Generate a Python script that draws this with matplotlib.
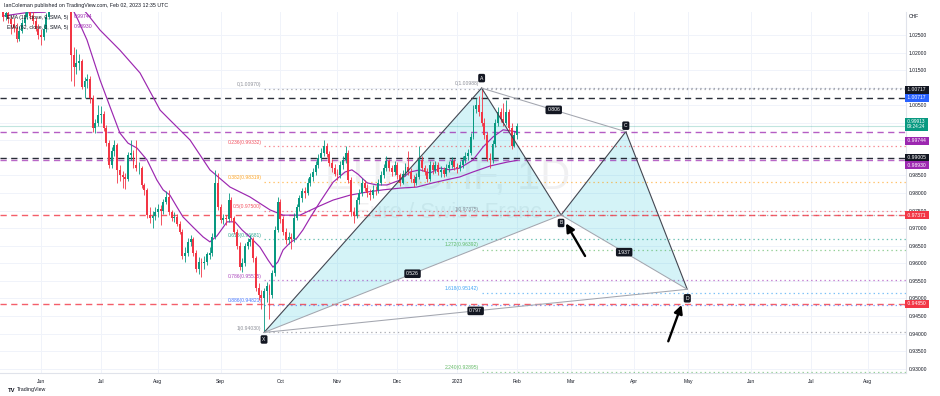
import numpy as np
import matplotlib
matplotlib.use("Agg")
import matplotlib.pyplot as plt
import matplotlib.transforms as mtransforms
from matplotlib.patches import Polygon

plt.rcParams['font.family'] = ['Liberation Sans', 'DejaVu Sans']
plt.rcParams['lines.scale_dashes'] = False

# ---------------- data ----------------
first_bar = -14          # trading-day index of first visible candle (0 = 1 Jun 2022)
first_open = 1.0335
closes = [1.0300, 1.0312, 1.0296, 1.0281, 1.0270, 1.0240, 1.0262, 1.0285, 1.0302, 1.0318,
          1.0305, 1.0290, 1.0268, 1.0250, 1.0244, 1.0266, 1.0300, 1.0332, 1.0360, 1.0382,
          1.0401, 1.0418, 1.0398, 1.0391, 1.0405, 1.0193, 1.0159, 1.0170, 1.0176, 1.0102,
          1.0118, 1.0125, 1.0071, 0.9985, 1.0000, 1.0022, 1.0025, 0.9985, 0.9943, 0.9880,
          0.9920, 0.9937, 0.9866, 0.9850, 0.9845, 0.9840, 0.9908, 0.9915, 0.9880, 0.9870,
          0.9872, 0.9822, 0.9810, 0.9738, 0.9730, 0.9735, 0.9745, 0.9755, 0.9748, 0.9775,
          0.9790, 0.9745, 0.9728, 0.9733, 0.9712, 0.9690, 0.9620, 0.9630, 0.9660, 0.9668,
          0.9630, 0.9585, 0.9605, 0.9600, 0.9605, 0.9625, 0.9630, 0.9675, 0.9829, 0.9760,
          0.9723, 0.9728, 0.9725, 0.9780, 0.9728, 0.9690, 0.9650, 0.9590, 0.9600, 0.9648,
          0.9660, 0.9668, 0.9615, 0.9530, 0.9510, 0.9500, 0.9522, 0.9535, 0.9510, 0.9572,
          0.9695, 0.9775, 0.9725, 0.9690, 0.9665, 0.9675, 0.9668, 0.9730, 0.9760, 0.9785,
          0.9805, 0.9800, 0.9830, 0.9845, 0.9860, 0.9880, 0.9900, 0.9915, 0.9935, 0.9910,
          0.9885, 0.9870, 0.9855, 0.9850, 0.9880, 0.9895, 0.9915, 0.9838, 0.9745, 0.9735,
          0.9780, 0.9800, 0.9830, 0.9815, 0.9800, 0.9795, 0.9810, 0.9808, 0.9830, 0.9850,
          0.9870, 0.9890, 0.9870, 0.9860, 0.9880, 0.9850, 0.9830, 0.9855, 0.9875, 0.9860,
          0.9840, 0.9830, 0.9845, 0.9895, 0.9870, 0.9860, 0.9840, 0.9880, 0.9865, 0.9880,
          0.9860, 0.9865, 0.9855, 0.9870, 0.9880, 0.9890, 0.9875, 0.9870, 0.9880, 0.9895,
          0.9905, 0.9915, 0.9960, 1.0040, 1.0050, 1.0030, 1.0000, 0.9965, 0.9900, 0.9895,
          0.9940, 1.0000, 1.0030, 1.0010, 1.0000, 1.0030, 0.9985, 0.9935, 0.9965, 0.99913]
highs = [1.0345, 1.0330, 1.0320, 1.0305, 1.0298, 1.0285, 1.0275, 1.0296, 1.0315, 1.0335,
         1.0330, 1.0318, 1.0300, 1.0282, 1.0268, 1.0280, 1.0312, 1.0345, 1.0378, 1.0395,
         1.0420, 1.0440, 1.0430, 1.0412, 1.0425, 1.0415, 1.0215, 1.0210, 1.0195, 1.0182,
         1.0130, 1.0140, 1.0132, 1.0080, 1.0012, 1.0050, 1.0048, 1.0035, 0.9995, 0.9950,
         0.9932, 0.9950, 0.9942, 0.9880, 0.9862, 0.9858, 0.9918, 0.9950, 0.9922, 0.9950,
         0.9888, 0.9878, 0.9830, 0.9815, 0.9760, 0.9748, 0.9760, 0.9770, 0.9765, 0.9782,
         0.9805, 0.9810, 0.9752, 0.9745, 0.9740, 0.9720, 0.9698, 0.9645, 0.9672, 0.9680,
         0.9675, 0.9638, 0.9618, 0.9615, 0.9620, 0.9632, 0.9645, 0.9685, 0.9865, 0.9858,
         0.9768, 0.9740, 0.9738, 0.9800, 0.9788, 0.9735, 0.9698, 0.9660, 0.9615, 0.9658,
         0.9672, 0.9680, 0.9675, 0.9622, 0.9545, 0.9525, 0.9530, 0.9548, 0.9540, 0.9580,
         0.9705, 0.9790, 0.9782, 0.9735, 0.9700, 0.9690, 0.9685, 0.9742, 0.9770, 0.9795,
         0.9815, 0.9818, 0.9842, 0.9858, 0.9872, 0.9892, 0.9912, 0.9928, 0.9952, 0.9942,
         0.9920, 0.9898, 0.9882, 0.9868, 0.9890, 0.9905, 0.9935, 0.9922, 0.9845, 0.9760,
         0.9790, 0.9812, 0.9842, 0.9838, 0.9825, 0.9812, 0.9822, 0.9820, 0.9840, 0.9862,
         0.9882, 0.9905, 0.9898, 0.9880, 0.9892, 0.9888, 0.9858, 0.9865, 0.9885, 0.9920,
         0.9870, 0.9850, 0.9858, 0.9935, 0.9905, 0.9880, 0.9870, 0.9890, 0.9888, 0.9892,
         0.9888, 0.9878, 0.9875, 0.9882, 0.9892, 0.9902, 0.9898, 0.9885, 0.9892, 0.9905,
         0.9918, 0.9925, 0.9972, 1.0052, 1.0072, 1.0075, 1.00988, 1.0015, 0.9975, 0.9915,
         0.9952, 1.0012, 1.0045, 1.0042, 1.0055, 1.0065, 1.0040, 1.0000, 0.9975, 1.0000]
lows = [1.0290, 1.0292, 1.0285, 1.0252, 1.0258, 1.0230, 1.0232, 1.0255, 1.0278, 1.0295,
        1.0296, 1.0281, 1.0260, 1.0238, 1.0222, 1.0236, 1.0258, 1.0295, 1.0325, 1.0350,
        1.0370, 1.0390, 1.0380, 1.0370, 1.0380, 1.0120, 1.0105, 1.0140, 1.0150, 1.0095,
        1.0070, 1.0100, 1.0055, 0.9975, 0.9970, 0.9990, 1.0000, 0.9978, 0.9935, 0.9870,
        0.9872, 0.9905, 0.9830, 0.9835, 0.9815, 0.9812, 0.9835, 0.9895, 0.9872, 0.9862,
        0.9855, 0.9815, 0.9795, 0.9730, 0.9715, 0.9700, 0.9722, 0.9732, 0.9710, 0.9740,
        0.9768, 0.9738, 0.9720, 0.9718, 0.9705, 0.9682, 0.9612, 0.9605, 0.9622, 0.9650,
        0.9622, 0.9575, 0.9570, 0.9562, 0.9585, 0.9595, 0.9612, 0.9620, 0.9670, 0.9752,
        0.9715, 0.9712, 0.9710, 0.9718, 0.9720, 0.9682, 0.9640, 0.9580, 0.9575, 0.9592,
        0.9640, 0.9648, 0.9605, 0.9520, 0.9495, 0.9470, 0.9403, 0.9490, 0.9440, 0.9500,
        0.9565, 0.9688, 0.9715, 0.9680, 0.9655, 0.9655, 0.9640, 0.9660, 0.9722, 0.9750,
        0.9775, 0.9785, 0.9795, 0.9820, 0.9835, 0.9850, 0.9870, 0.9890, 0.9905, 0.9902,
        0.9878, 0.9860, 0.9848, 0.9838, 0.9842, 0.9868, 0.9885, 0.9830, 0.9735, 0.9715,
        0.9728, 0.9770, 0.9792, 0.9805, 0.9790, 0.9780, 0.9785, 0.9795, 0.9800, 0.9822,
        0.9842, 0.9862, 0.9862, 0.9848, 0.9852, 0.9840, 0.9820, 0.9825, 0.9848, 0.9852,
        0.9832, 0.9818, 0.9822, 0.9840, 0.9862, 0.9850, 0.9832, 0.9835, 0.9855, 0.9858,
        0.9852, 0.9845, 0.9845, 0.9848, 0.9860, 0.9872, 0.9865, 0.9858, 0.9862, 0.9872,
        0.9885, 0.9895, 0.9908, 0.9955, 1.0028, 1.0020, 0.9990, 0.9955, 0.9890, 0.9870,
        0.9885, 0.9932, 0.9992, 1.0002, 0.9990, 0.9995, 0.9978, 0.9925, 0.9930, 0.9955]

# EMA readings (trading-day index, value)
ema_fast_bars = [-14, -6, 1.5, 6, 8.5, 10.7, 13.6, 16.9, 21.7, 25.4, 29, 32, 35.3, 39, 42.6, 44.9,
                 47.4, 50, 52.2, 55.9, 59.6, 62.1, 64.7, 68.4, 71.3, 73.9, 76.8, 80.5, 83.5, 85.3,
                 87.1, 89, 91.5, 94.1, 96.3, 98.9, 102.6, 107.4, 111.8, 114.3, 116.5, 119.9, 123.5,
                 127.2, 132, 135.7, 139.3, 143, 146.7, 150.4, 154, 158.8, 162.5, 166.2, 169.9, 175]
ema_fast_vals = [1.0304, 1.0313, 1.0315, 1.0338, 1.0355, 1.0338, 1.0293, 1.0236, 1.0122, 1.0045,
                 0.9971, 0.9942, 0.9928, 0.9894, 0.9837, 0.9809, 0.9794, 0.9760, 0.9732, 0.9703,
                 0.9675, 0.9661, 0.9678, 0.9718, 0.9718, 0.9695, 0.9675, 0.9646, 0.9609, 0.9589,
                 0.9604, 0.9638, 0.9658, 0.9672, 0.9695, 0.9729, 0.9775, 0.9831, 0.9860, 0.9866,
                 0.9854, 0.9829, 0.9823, 0.9823, 0.9837, 0.9860, 0.9866, 0.9857, 0.9871, 0.9866,
                 0.9871, 0.9894, 0.9931, 0.9960, 0.9980, 0.99744]
ema_slow_bars = [-14, -0.4, 13.2, 17.3, 21.7, 29, 36.4, 43.8, 47.4, 54.8, 62.1, 69.5, 76.8, 84.2,
                 89, 95.2, 101.5, 107.4, 113.6, 119.9, 125.7, 132, 138.2, 144.1, 150.4, 154, 158.8,
                 165.1, 171.3, 175]
ema_slow_vals = [1.0378, 1.0372, 1.0344, 1.0307, 1.0264, 1.0207, 1.0142, 1.0036, 1.0008, 0.9951,
                 0.9866, 0.9817, 0.9789, 0.9752, 0.9737, 0.9737, 0.9760, 0.9780, 0.9794, 0.9803,
                 0.9809, 0.9814, 0.9817, 0.9829, 0.9840, 0.9846, 0.9860, 0.9877, 0.9888, 0.9893]

month_labels = ['Jun', 'Jul', 'Aug', 'Sep', 'Oct', 'Nov', 'Dec', '2023', 'Feb', 'Mar', 'Apr',
                'May', 'Jun', 'Jul', 'Aug']
month_bars = [0, 22, 43, 66, 88, 109, 131, 153, 175, 195, 218, 238, 261, 283, 304]

price_ticks = [0.930, 0.935, 0.940, 0.945, 0.950, 0.955, 0.960, 0.965, 0.970, 0.975, 0.980,
               0.985, 0.990, 0.995, 1.000, 1.005, 1.010, 1.015, 1.020, 1.025]
hidden_tick_labels = [0.990, 0.995, 1.000, 1.010]   # covered by price tags in the reference

# XABCD pattern
pat_names = ['X', 'A', 'B', 'C', 'D']
pat_bars = [82, 162, 191.2, 215, 237.6]
pat_prices = [0.9403, 1.00988, 0.97375, 0.99747, 0.95259]
pat_ratios = ['0.526', '0.806', '1.937', '0.797']   # on XB, AC, BD, XD

# Fibonacci retracement X-A
fib1_hi, fib1_lo = 1.00970, 0.94030
fib1_levels = [0, 0.236, 0.382, 0.5, 0.618, 0.786, 0.886, 1]
fib1_names = ['0', '0.236', '0.382', '0.5', '0.618', '0.786', '0.886', '1']
# Fibonacci extension from A
fib2_hi, fib2_lo = 1.00988, 0.97375
fib2_levels = [0, 1, 1.272, 1.618, 2.24]
fib2_names = ['0', '1', '1.272', '1.618', '2.240']

# horizontal lines
hline_prices = [1.00717, 0.99744, 0.99005, 0.98930, 0.97371, 0.94850]
last_price = 0.99913

# ---------------- styling constants ----------------
GREEN = '#089981'
RED = '#f23645'
PURPLE = '#9c27b0'
DARK = '#131722'
GRAY = '#787b86'

W, H = 940, 396
AX_L, AX_R, AX_T, AX_B = 0, 906, 12, 373
PX0, PXB = 41.0, 2.72           # pixel of bar 0, pixels per bar
PY0, PYK = 35.0, 3512.0         # pixel of 1.025, pixels per unit price

fig = plt.figure(figsize=(W / 100, H / 100), dpi=100)
fig.patch.set_facecolor('white')
ax = fig.add_axes([AX_L / W, 1 - AX_B / H, (AX_R - AX_L) / W, (AX_B - AX_T) / H])
ax.set_facecolor('white')
ax.set_xlim((AX_L - PX0) / PXB, (AX_R - PX0) / PXB)
ax.set_ylim(1.025 - (AX_B - PY0) / PYK, 1.025 + (PY0 - AX_T) / PYK)

def px_pt(p):
    return p * 0.72

# grid / axes
ax.set_xticks(month_bars)
ax.set_xticklabels(month_labels)
ax.set_yticks(price_ticks)
ax.set_yticklabels(['' if any(abs(v - h) < 1e-9 for h in hidden_tick_labels) else f'{v:.5f}'
                    for v in price_ticks])
ax.grid(True, color='#f0f3fa', lw=0.7, zorder=0)
ax.set_axisbelow(True)
ax.yaxis.tick_right()
ax.tick_params(axis='y', length=0, pad=2.2, labelsize=3.6, labelcolor=DARK)
ax.tick_params(axis='x', length=0, pad=4.0, labelsize=3.6, labelcolor=DARK)
for s in ['top', 'left']:
    ax.spines[s].set_visible(False)
for s in ['right', 'bottom']:
    ax.spines[s].set_color('#e0e3eb')
    ax.spines[s].set_linewidth(0.8)

# watermark
ax.text(0.4945, 1 - (177 - AX_T) / (AX_B - AX_T), 'EURCHF, 1D', transform=ax.transAxes,
        ha='center', va='center', fontsize=30, color=GRAY, alpha=0.11, zorder=0.5)
ax.text(0.4945, 1 - (213 - AX_T) / (AX_B - AX_T), 'Euro / Swiss Franc', transform=ax.transAxes,
        ha='center', va='center', fontsize=16, color=GRAY, alpha=0.11, zorder=0.5)

xmax = ax.get_xlim()[1]

# pattern fills
P = list(zip(pat_bars, pat_prices))
ax.add_patch(Polygon([P[0], P[1], P[2]], closed=True, fc='#00bcd4', alpha=0.17, ec='none', zorder=1))
ax.add_patch(Polygon([P[2], P[3], P[4]], closed=True, fc='#00bcd4', alpha=0.17, ec='none', zorder=1))

# fib retracement
fib1_colors = [GRAY, RED, '#ff9800', RED, GREEN, PURPLE, '#2962ff', GRAY]
for lv, nm, c in zip(fib1_levels, fib1_names, fib1_colors):
    p = fib1_hi - lv * (fib1_hi - fib1_lo)
    ax.hlines(p, pat_bars[0], xmax, colors=c, linestyles=(0, (1.0, 2.2)), lw=0.9, alpha=0.6, zorder=1.5)
    ax.annotate(f'{nm}({p:.5f})', xy=(pat_bars[0], p), xytext=(-2, px_pt(4)), textcoords='offset points',
                ha='right', va='center', fontsize=3.6, color=c, alpha=0.85, zorder=2)

fib2_colors = [GRAY, GRAY, '#4caf50', '#2196f3', '#4caf50']
for lv, nm, c in zip(fib2_levels, fib2_names, fib2_colors):
    p = fib2_hi - lv * (fib2_hi - fib2_lo)
    ax.hlines(p, pat_bars[1], xmax, colors=c, linestyles=(0, (1.0, 2.2)), lw=0.9, alpha=0.6, zorder=1.5)
    ax.annotate(f'{nm}({p:.5f})', xy=(pat_bars[1], p), xytext=(-2, px_pt(5)), textcoords='offset points',
                ha='right', va='center', fontsize=3.6, color=c, alpha=0.85, zorder=2)

# horizontal dashed lines
hline_colors = [DARK, PURPLE, DARK, PURPLE, RED, RED]
hline_alpha = [0.9, 0.75, 0.9, 0.7, 0.8, 0.8]
for p, c, a in zip(hline_prices, hline_colors, hline_alpha):
    ax.axhline(p, color=c, lw=1.0, ls=(0, (4.5, 3.2)), alpha=a, zorder=1.6)
ax.axhline(last_price, color=GREEN, lw=0.8, alpha=0.25, zorder=1.6)

# EMAs
ax.plot(ema_slow_bars, ema_slow_vals, color=PURPLE, lw=0.85, zorder=2.5)
ax.plot(ema_fast_bars, ema_fast_vals, color=PURPLE, lw=0.85, zorder=2.5)

# candles
n = len(closes)
xs = np.arange(first_bar, first_bar + n)
opens = np.concatenate([[first_open], np.array(closes[:-1])])
cl = np.array(closes)
up = cl >= opens
cols = np.where(up, GREEN, RED)
ax.vlines(xs, lows, highs, colors=cols, lw=0.6, zorder=3)
body_h = np.maximum(np.abs(cl - opens), 0.00012)
ax.bar(xs, body_h, bottom=np.minimum(opens, cl), width=0.72, color=cols, lw=0, zorder=3.1)

# pattern lines
dark_pairs = [(0, 1), (1, 2), (2, 3), (3, 4)]
light_pairs = [(0, 2), (1, 3), (2, 4), (0, 4)]
for i, j in dark_pairs:
    ax.plot([pat_bars[i], pat_bars[j]], [pat_prices[i], pat_prices[j]], color='#434651', lw=0.8, zorder=4)
for i, j in light_pairs:
    ax.plot([pat_bars[i], pat_bars[j]], [pat_prices[i], pat_prices[j]], color='#a3a6af', lw=0.75, zorder=4)
for (i, j), r in zip(light_pairs, pat_ratios):
    mx = (pat_bars[i] + pat_bars[j]) / 2
    my = (pat_prices[i] + pat_prices[j]) / 2
    ax.text(mx, my, r, ha='center', va='center', fontsize=3.7, color='white', zorder=6,
            bbox=dict(boxstyle='round,pad=0.35,rounding_size=0.3', fc=DARK, ec='none'))

name_offsets_px = [-7, 10, -8, 6, -9]
for nm, b, p, off in zip(pat_names, pat_bars, pat_prices, name_offsets_px):
    ax.annotate(nm, xy=(b, p), xytext=(0, px_pt(off)), textcoords='offset points', ha='center',
                va='center', fontsize=3.6, color='white', zorder=6, annotation_clip=False,
                bbox=dict(boxstyle='round,pad=0.35,rounding_size=0.3', fc=DARK, ec='none'))

# arrows pointing at B and D
ax.annotate('', xy=(pat_bars[2], pat_prices[2]), xytext=(px_pt(24), px_pt(-41)), textcoords='offset points',
            arrowprops=dict(arrowstyle='-|>,head_length=0.55,head_width=0.28', color='black', lw=1.7,
                            shrinkA=0, shrinkB=7, mutation_scale=9), zorder=7)
ax.annotate('', xy=(pat_bars[4], pat_prices[4]), xytext=(px_pt(-19), px_pt(-52)), textcoords='offset points',
            arrowprops=dict(arrowstyle='-|>,head_length=0.55,head_width=0.28', color='black', lw=1.7,
                            shrinkA=0, shrinkB=12, mutation_scale=9), zorder=7, annotation_clip=False)

# legend
ytop = lambda ypx: 1 - (ypx - AX_T) / (AX_B - AX_T)
ax.text(7 / AX_R, ytop(17), 'EMA (15, close, 0, SMA, 5)', transform=ax.transAxes, fontsize=3.7,
        color=DARK, va='center', ha='left', zorder=8)
ax.text(74 / AX_R, ytop(17), '0.99744', transform=ax.transAxes, fontsize=3.7,
        color=PURPLE, va='center', ha='left', zorder=8)
ax.text(7 / AX_R, ytop(27), 'EMA (62, close, 0, SMA, 5)', transform=ax.transAxes, fontsize=3.7,
        color=DARK, va='center', ha='left', zorder=8)
ax.text(74 / AX_R, ytop(27), '0.98930', transform=ax.transAxes, fontsize=3.7,
        color=PURPLE, va='center', ha='left', zorder=8)

# price tags on the right axis
trans = mtransforms.blended_transform_factory(ax.transAxes, ax.transData)
tags = [
    (hline_prices[0], ' 1.00717 ', DARK, 8, 3.6),
    (hline_prices[0], ' 1.00717 ', '#2962ff', 0, 3.6),
    (last_price, ' 0.99913 \n09:24:24', GREEN, 1.5, 3.4),
    (hline_prices[1], ' 0.99744 ', PURPLE, -9, 3.6),
    (hline_prices[2], ' 0.99005 ', DARK, 0, 3.6),
    (hline_prices[3], ' 0.98930 ', PURPLE, -5, 3.6),
    (hline_prices[4], ' 0.97371 ', RED, 0, 3.6),
    (hline_prices[5], ' 0.94850 ', RED, 0, 3.6),
]
for p, t, c, dy, fs in tags:
    ax.annotate(t, xy=(1.0, p), xycoords=trans, xytext=(0.3, px_pt(dy)), textcoords='offset points',
                ha='left', va='center', fontsize=fs, color='white', zorder=9, annotation_clip=False,
                linespacing=0.95,
                bbox=dict(boxstyle='square,pad=0.28', fc=c, ec='none'))

ax.text(1.0 + 3 / AX_R, ytop(17), 'CHF', transform=ax.transAxes, fontsize=3.6, color=DARK,
        ha='left', va='center', clip_on=False)

# header and footer
fig.text(4 / W, 1 - 5 / H, 'IanColeman published on TradingView.com, Feb 02, 2023 12:35 UTC',
         fontsize=3.8, color=DARK, ha='left', va='center')
fig.text(8 / W, 1 - 390 / H, 'TV', fontsize=4.2, fontweight='bold', color=DARK, ha='left', va='center')
fig.text(17 / W, 1 - 390 / H, 'TradingView', fontsize=3.8, color=DARK, ha='left', va='center')

fig.savefig('out.png', dpi=100, facecolor='white')
